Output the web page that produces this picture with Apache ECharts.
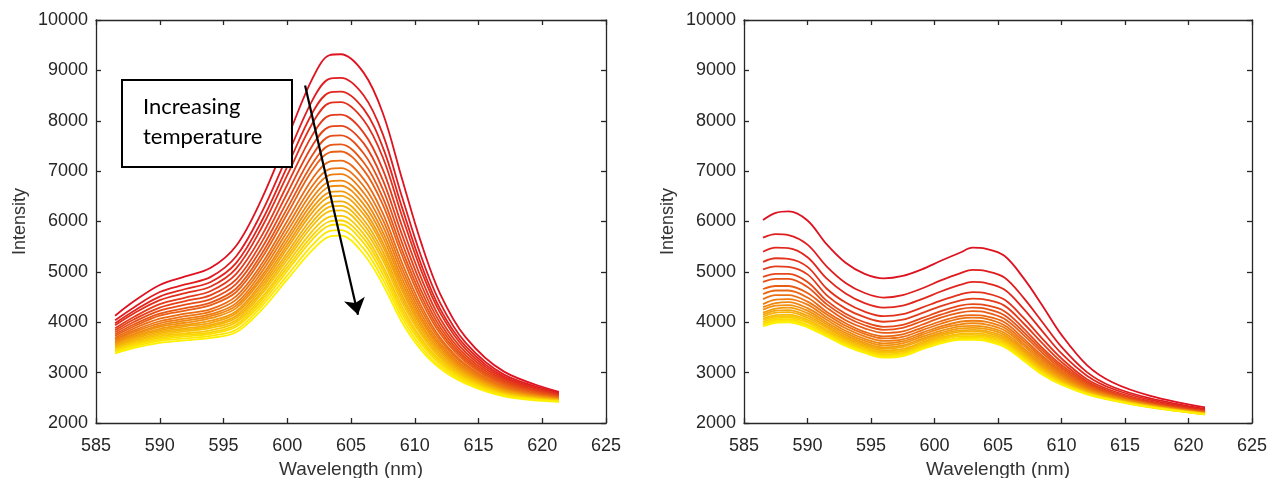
<!DOCTYPE html>
<html>
<head>
<meta charset="utf-8">
<script src="https://cdn.jsdelivr.net/npm/echarts@6/dist/echarts.min.js"></script>
<style>
html,body{margin:0;padding:0;background:#fff;}
#chart{width:1270px;height:478px;}
</style>
</head>
<body>
<div id="chart"></div>
<script>
// ---------------- DATA ----------------
const wlLeft = [586.5,588,590,592,594,596,598,600,602,603.3,604.2,606,607.5,609,610.5,612,614,617,621.3];
const leftIntensity = [
 [4130,4420,4740,4910,5080,5520,6450,7650,8850,9300,9320,8950,8150,6850,5580,4560,3700,3020,2620],
 [4040,4300,4600,4750,4900,5310,6180,7300,8420,8830,8850,8500,7730,6490,5310,4380,3590,2960,2600],
 [3980,4230,4510,4660,4800,5180,6010,7090,8170,8560,8580,8230,7470,6280,5150,4260,3520,2920,2580],
 [3940,4180,4440,4580,4710,5070,5880,6920,7960,8350,8370,8010,7270,6110,5030,4180,3460,2890,2570],
 [3880,4110,4360,4490,4620,4960,5720,6730,7730,8100,8120,7760,7030,5910,4880,4070,3400,2860,2550],
 [3840,4060,4290,4420,4540,4850,5590,6560,7520,7880,7900,7550,6820,5740,4750,3980,3340,2830,2540],
 [3800,4010,4230,4350,4460,4760,5470,6400,7330,7690,7710,7350,6640,5580,4630,3900,3290,2800,2530],
 [3760,3960,4170,4280,4390,4670,5360,6260,7160,7510,7530,7170,6470,5440,4530,3830,3250,2780,2520],
 [3730,3920,4130,4230,4340,4600,5270,6150,7030,7370,7390,7020,6330,5330,4440,3770,3210,2760,2510],
 [3690,3880,4070,4170,4260,4520,5160,6010,6860,7190,7210,6840,6160,5180,4330,3690,3160,2730,2500],
 [3660,3840,4020,4120,4210,4450,5080,5900,6720,7040,7060,6700,6030,5070,4250,3640,3130,2710,2500],
 [3640,3810,3980,4070,4160,4380,5000,5800,6600,6920,6940,6570,5910,4970,4170,3580,3090,2700,2490],
 [3610,3770,3940,4030,4120,4330,4920,5700,6480,6790,6810,6450,5790,4870,4100,3530,3060,2680,2480],
 [3590,3750,3910,3990,4080,4280,4860,5620,6380,6690,6710,6340,5690,4780,4040,3490,3030,2670,2480],
 [3560,3720,3870,3950,4030,4220,4790,5540,6280,6580,6600,6230,5580,4700,3970,3440,3010,2650,2470],
 [3550,3700,3840,3920,3990,4180,4730,5470,6190,6490,6510,6140,5500,4630,3920,3410,2980,2640,2460],
 [3520,3670,3810,3880,3950,4130,4670,5380,6090,6380,6400,6030,5400,4540,3860,3360,2960,2620,2460],
 [3500,3640,3780,3850,3920,4090,4610,5310,6000,6290,6310,5940,5310,4470,3800,3320,2930,2610,2450],
 [3490,3620,3750,3820,3890,4040,4560,5240,5920,6200,6220,5850,5230,4400,3750,3290,2910,2600,2450],
 [3460,3590,3720,3780,3840,4000,4490,5160,5820,6090,6110,5750,5120,4310,3680,3240,2880,2580,2440],
 [3440,3570,3690,3750,3800,3950,4440,5090,5730,6000,6020,5660,5040,4240,3630,3210,2860,2570,2440],
 [3430,3550,3660,3720,3770,3910,4380,5020,5650,5920,5940,5570,4950,4170,3580,3170,2840,2560,2430],
 [3400,3520,3630,3680,3730,3850,4320,4930,5540,5810,5830,5460,4850,4090,3510,3120,2810,2550,2430],
 [3380,3490,3590,3640,3690,3800,4250,4850,5440,5700,5720,5350,4750,4000,3450,3080,2780,2530,2420]
];
const wlRight = [586.5,587.5,588.5,590,591.5,593,594.5,596,597.5,599,600.5,602,603,604,605.5,607,608.5,610,612,614,617,621.3];
const rightIntensity = [
 [6030,6170,6200,6020,5550,5180,4960,4870,4920,5050,5220,5380,5480,5460,5320,4880,4330,3750,3150,2810,2540,2310],
 [5680,5750,5730,5540,5110,4780,4580,4490,4540,4670,4830,4970,5040,5020,4890,4490,4000,3510,3010,2720,2490,2280],
 [5400,5480,5470,5290,4870,4570,4380,4290,4330,4460,4610,4740,4800,4780,4650,4270,3820,3380,2940,2680,2460,2260],
 [5200,5270,5260,5100,4670,4390,4210,4120,4160,4290,4430,4550,4600,4580,4450,4090,3670,3280,2870,2640,2430,2240],
 [5050,5110,5100,4950,4540,4270,4100,4010,4050,4180,4320,4430,4470,4450,4330,3980,3580,3210,2830,2610,2410,2230],
 [4900,4960,4960,4800,4430,4170,4000,3910,3950,4080,4220,4330,4360,4340,4220,3880,3490,3150,2800,2590,2400,2230],
 [4800,4860,4860,4700,4360,4110,3940,3850,3890,4020,4150,4260,4290,4270,4140,3810,3440,3110,2770,2580,2390,2220],
 [4660,4720,4720,4580,4290,4040,3880,3790,3820,3950,4090,4190,4220,4200,4070,3750,3390,3070,2750,2560,2380,2210],
 [4560,4630,4630,4490,4210,3980,3810,3720,3760,3890,4020,4120,4140,4120,4000,3680,3330,3030,2730,2550,2370,2210],
 [4460,4540,4540,4410,4160,3930,3770,3680,3710,3840,3970,4070,4090,4070,3940,3630,3290,3000,2710,2540,2370,2200],
 [4360,4450,4460,4350,4100,3880,3720,3630,3660,3790,3920,4010,4030,4010,3890,3580,3250,2970,2690,2530,2360,2200],
 [4300,4380,4400,4280,4050,3830,3670,3580,3620,3750,3880,3960,3980,3960,3840,3540,3210,2940,2670,2520,2350,2200],
 [4250,4330,4340,4230,4000,3790,3630,3540,3580,3710,3830,3920,3930,3910,3790,3490,3170,2910,2660,2510,2350,2190],
 [4190,4270,4290,4180,3960,3750,3590,3500,3540,3670,3790,3880,3890,3870,3750,3450,3140,2890,2650,2500,2340,2190],
 [4150,4230,4240,4130,3920,3710,3560,3470,3510,3640,3760,3840,3850,3830,3710,3420,3110,2870,2630,2490,2340,2190],
 [4110,4190,4200,4090,3890,3680,3530,3440,3470,3600,3730,3810,3820,3800,3670,3390,3080,2850,2620,2480,2330,2180],
 [4070,4140,4150,4050,3850,3650,3500,3410,3440,3570,3700,3770,3780,3760,3640,3360,3060,2830,2610,2480,2330,2180],
 [4040,4110,4120,4020,3820,3620,3480,3390,3420,3550,3670,3750,3750,3730,3610,3330,3040,2810,2600,2470,2320,2180],
 [4000,4080,4090,3990,3790,3600,3450,3360,3390,3520,3650,3720,3720,3700,3580,3310,3020,2800,2590,2460,2320,2180],
 [3970,4050,4060,3950,3770,3570,3430,3340,3370,3500,3620,3690,3700,3680,3560,3280,2990,2790,2590,2460,2320,2170],
 [3950,4020,4030,3930,3740,3550,3410,3320,3350,3480,3600,3670,3670,3650,3530,3260,2980,2770,2580,2450,2310,2170],
 [3920,3990,4000,3900,3720,3530,3390,3300,3330,3460,3580,3650,3650,3630,3510,3240,2960,2760,2570,2450,2310,2170]
];
const arrowStart = [601.4, 8700];
const arrowEnd = [605.55, 4150];
const annotationLines = ['Increasing', 'temperature'];

// ---------------- STYLE ----------------
const axisColor = '#262626';
const tickFont = 18;
const nameFont = 19;
function lineColor(k, n) {
  const f = n > 1 ? k / (n - 1) : 0;
  const r = Math.round(222 + 33 * f);
  const g = Math.round(18 + 222 * f);
  const b = Math.round(32 * (1 - f));
  return 'rgb(' + r + ',' + g + ',' + b + ')';
}
const grids = [
  {left: 96, top: 20, width: 510, height: 403, containLabel: false, outerBoundsMode: 'none'},
  {left: 744, top: 20, width: 508, height: 403, containLabel: false, outerBoundsMode: 'none'}
];
function plain(v) { return String(v); }
function xAx(gi, pos) {
  return {
    type: 'value', gridIndex: gi, position: pos, min: 585, max: 625, interval: 5,
    axisLine: {show: true, onZero: false, lineStyle: {color: axisColor, width: 1.3}},
    axisTick: {show: true, inside: true, length: 5, lineStyle: {color: axisColor, width: 1.3}},
    axisLabel: {show: pos === 'bottom', formatter: plain, color: axisColor, fontSize: tickFont, fontFamily: 'Liberation Sans', margin: 14},
    splitLine: {show: false},
    name: pos === 'bottom' ? 'Wavelength (nm)' : '',
    nameLocation: 'middle', nameGap: 37,
    nameTextStyle: {color: '#333', fontSize: nameFont, fontFamily: 'Liberation Sans'}
  };
}
function yAx(gi, pos) {
  return {
    type: 'value', gridIndex: gi, position: pos, min: 2000, max: 10000, interval: 1000,
    axisLine: {show: true, onZero: false, lineStyle: {color: axisColor, width: 1.3}},
    axisTick: {show: true, inside: true, length: 5, lineStyle: {color: axisColor, width: 1.3}},
    axisLabel: {show: pos === 'left', formatter: plain, color: axisColor, fontSize: tickFont, fontFamily: 'Liberation Sans', margin: 8},
    splitLine: {show: false},
    name: pos === 'left' ? 'Intensity' : '',
    nameLocation: 'middle', nameGap: 67, nameRotate: 90,
    nameTextStyle: {color: '#333', fontSize: 18, fontFamily: 'Liberation Sans'}
  };
}
const series = [];
leftIntensity.forEach(function (vals, k) {
  series.push({
    type: 'line', xAxisIndex: 0, yAxisIndex: 0, showSymbol: false, smooth: 0.35,
    lineStyle: {width: 1.8, color: lineColor(k, leftIntensity.length)},
    data: wlLeft.map(function (w, i) { return [w, vals[i]]; }),
    z: 2
  });
});
rightIntensity.forEach(function (vals, k) {
  series.push({
    type: 'line', xAxisIndex: 2, yAxisIndex: 2, showSymbol: false, smooth: 0.35,
    lineStyle: {width: 1.8, color: lineColor(k, rightIntensity.length)},
    data: wlRight.map(function (w, i) { return [w, vals[i]]; }),
    z: 2
  });
});
// arrow annotation (in data coordinates)
series.push({
  type: 'line', xAxisIndex: 0, yAxisIndex: 0, data: [], z: 10,
  markLine: {
    silent: true, animation: false,
    symbol: ['none', 'arrow'], symbolSize: 16,
    lineStyle: {color: '#000', width: 2.2, type: 'solid'},
    label: {show: false},
    data: [[{coord: arrowStart}, {coord: arrowEnd}]]
  }
});

const chart = echarts.init(document.getElementById('chart'), null, {renderer: 'canvas'});
chart.setOption({
  animation: false,
  backgroundColor: '#fff',
  grid: grids,
  xAxis: [xAx(0, 'bottom'), xAx(0, 'top'), xAx(1, 'bottom'), xAx(1, 'top')],
  yAxis: [yAx(0, 'left'), yAx(0, 'right'), yAx(1, 'left'), yAx(1, 'right')],
  series: series,
  graphic: [
    {type: 'rect', z: 20, shape: {x: 122, y: 80, width: 170, height: 87},
     style: {fill: '#fff', stroke: '#000', lineWidth: 2}},
    {type: 'text', z: 21, left: 143, top: 96,
     style: {text: annotationLines[0], fill: '#000', font: '22px Lato'}},
    {type: 'text', z: 21, left: 143, top: 126,
     style: {text: annotationLines[1], fill: '#000', font: '22px Lato'}}
  ]
});
</script>
</body>
</html>
